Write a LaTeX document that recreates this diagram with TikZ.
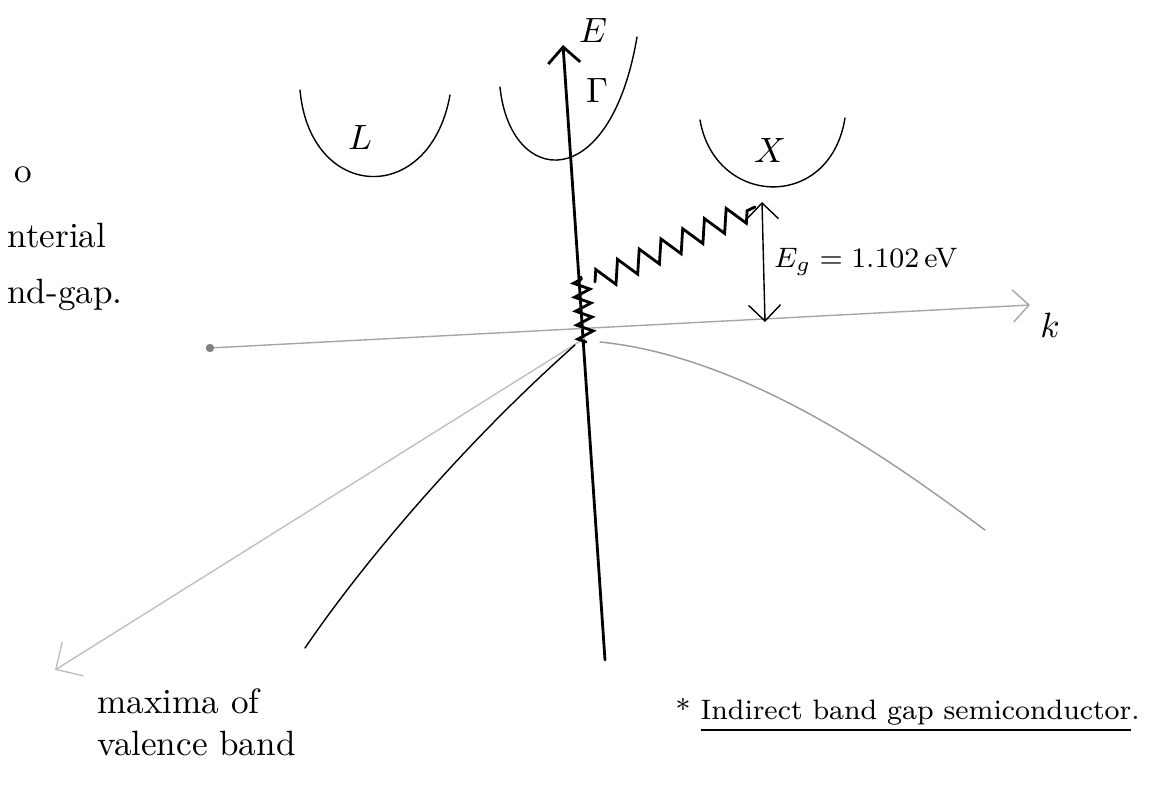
\documentclass[tikz,border=0pt]{standalone}
\usetikzlibrary{calc,arrows.meta,decorations.pathmorphing}

\begin{document}
\begin{tikzpicture}[line cap=round,
  barb/.style={-{Straight Barb[length=1.6mm]}},
  zz/.style={decorate,decoration={zigzag,segment length=2.4mm,amplitude=1.1mm}}]
  \useasboundingbox (0,0) rectangle (11.6,7.87);
  \coordinate (O) at (5.85,4.49);
  \coordinate (Eb) at (6.05,1.27); \coordinate (Et) at (5.63,7.42);
  \coordinate (Kl) at (2.10,4.39); \coordinate (Kr) at (10.30,4.82);
  \coordinate (D) at (0.55,1.17);
  % axes
  \draw[thick,barb] (Eb)--(Et);
  \draw[gray!70,barb] (Kl)--(Kr);
  \fill[gray] (Kl) circle(1.2pt);
  \draw[gray!50,-{Straight Barb[length=2mm]}] (O)--(D);
  \node (E) at (5.93,7.57){$E$}; \node (G) at (5.97,6.97){$\Gamma$};
  \node (k) at (10.5,4.62){$k$};
  % valence band
  \draw (5.75,4.42) .. controls (4.6,3.4) and (3.6,2.2) .. (3.05,1.39);
  \draw[gray!80] (6.0,4.45) .. controls (7.5,4.3) and (9,3.2) .. (9.85,2.57);
  % conduction band valleys
  \draw (3.0,6.97) .. controls (3.1,5.85) and (4.3,5.8) .. (4.5,6.92);
  \draw (5.0,7.0) .. controls (5.1,6.0) and (6.1,5.9) .. (6.37,7.5);
  \draw (7.0,6.67) .. controls (7.15,5.8) and (8.3,5.75) .. (8.45,6.69);
  \node (L) at (3.6,6.5){$L$}; \node (X) at (7.7,6.37){$X$};
  % indirect transition
  \coordinate (VB) at (5.95,5.05); \coordinate (CB) at (7.55,5.8);
  \draw[thick,zz] (VB)--(CB);
  \draw[thick,decorate,decoration={zigzag,segment length=1.4mm,amplitude=0.8mm}]
    (5.86,4.45)--(5.81,5.1);
  \coordinate (g1) at (7.62,5.85); \coordinate (g2) at (7.65,4.65);
  \draw[{Straight Barb[length=1.6mm]}-{Straight Barb[length=1.6mm]}] (g1)--(g2);
  \node[anchor=west,inner sep=1pt] (gap) at (7.7,5.25){\footnotesize$E_g = 1.102\,$eV};
  % texts
  \node[anchor=west] (t1) at (0.02,6.12){o};
  \node[anchor=west] (t2) at (-0.05,5.52){nterial};
  \node[anchor=west] (t3) at (-0.05,4.92){nd-gap.};
  \node[anchor=west,align=left] (vb) at (0.85,0.65){maxima of\\valence band};
  \node[anchor=east] (title) at (11.52,0.72){\footnotesize * \underline{Indirect band gap semiconductor}.};
\end{tikzpicture}
\end{document}
